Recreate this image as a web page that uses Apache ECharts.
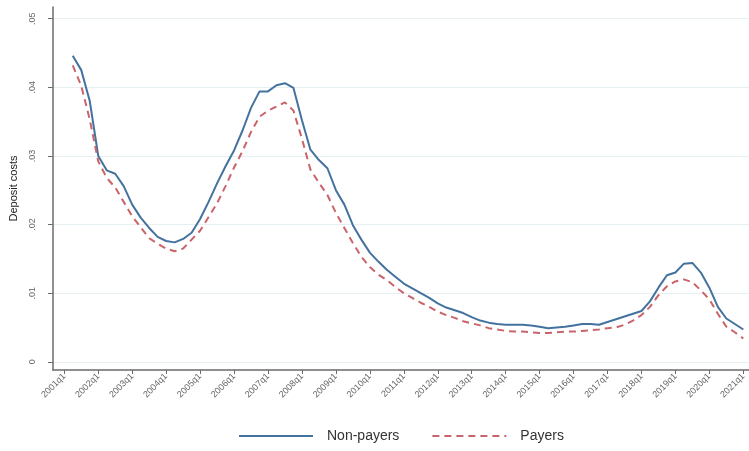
<!DOCTYPE html>
<html>
<head>
<meta charset="utf-8">
<script src="https://cdn.jsdelivr.net/npm/echarts@6/dist/echarts.min.js"></script>
<style>html,body{margin:0;padding:0;background:#fff;}#c{width:749px;height:451px;}</style>
</head>
<body>
<div id="c"></div>
<script>
// Quarters: index 0 = 2001q1 ... 80 = 2021q1; data starts at 2001q2
const startYear = 2001;
const tickQuarters = [0,4,8,12,16,20,24,28,32,36,40,44,48,52,56,60,64,68,72,76,80];
const yTicks = [0, 0.01, 0.02, 0.03, 0.04, 0.05];
const nonPayers = [
  0.0446,0.0425,0.0380,0.0300,0.0279,0.0274,0.0256,0.0229,0.0210,0.0195,
  0.0182,0.0176,0.0174,0.0179,0.0188,0.0208,0.0233,0.0260,0.0285,0.0308,
  0.0337,0.0370,0.0394,0.0394,0.0403,0.0406,0.0399,0.0352,0.0309,0.0294,
  0.0282,0.0250,0.0229,0.0199,0.0178,0.0159,0.0146,0.0134,0.0124,0.0114,
  0.0107,0.0100,0.0093,0.0085,0.0079,0.0075,0.0071,0.0065,0.0060,0.0057,
  0.0055,0.0054,0.0054,0.0054,0.0053,0.0051,0.0049,0.0050,0.0051,0.0053,
  0.0055,0.0055,0.0054,0.0058,0.0062,0.0066,0.0070,0.0074,0.0088,0.0108,
  0.0126,0.0130,0.0143,0.0144,0.0130,0.0108,0.0080,0.0063,0.0055,0.0047
];
const payers = [
  0.0432,0.0402,0.0353,0.0292,0.0268,0.0254,0.0233,0.0212,0.0196,0.0180,
  0.0172,0.0165,0.0161,0.0165,0.0178,0.0191,0.0211,0.0231,0.0256,0.0283,
  0.0307,0.0335,0.0357,0.0366,0.0372,0.0378,0.0366,0.0325,0.0280,0.0261,
  0.0243,0.0217,0.0195,0.0173,0.0153,0.0138,0.0127,0.0119,0.0109,0.0100,
  0.0093,0.0086,0.0080,0.0073,0.0068,0.0064,0.0059,0.0056,0.0053,0.0049,
  0.0047,0.0045,0.0044,0.0044,0.0043,0.0042,0.0042,0.0043,0.0044,0.0044,
  0.0045,0.0046,0.0047,0.0049,0.0050,0.0054,0.0060,0.0068,0.0080,0.0097,
  0.0110,0.0117,0.0120,0.0116,0.0104,0.0091,0.0070,0.0051,0.0043,0.0034
];
const firstIndex = 1;

function qLabel(q){
  const y = startYear + Math.floor(q/4);
  return y + 'q' + (q%4 + 1);
}
const npData = nonPayers.map((v,i)=>[i+firstIndex, v]);
const pData = payers.map((v,i)=>[i+firstIndex, v]);

const chart = echarts.init(document.getElementById('c'), null, {renderer:'canvas'});
const axisColor = '#6b6b6b';
const font = 'Liberation Sans, Arial, sans-serif';
chart.setOption({
  animation: false,
  backgroundColor: '#ffffff',
  grid: {left: 52, right: 0, top: 7, bottom: 81, containLabel: false},
  legend: {
    bottom: 3, left: 233,
    itemWidth: 74, itemHeight: 10, itemGap: 32,
    itemStyle: {opacity: 0},
    textStyle: {fontFamily: font, fontSize: 14, color: '#333', padding:[0,0,0,9]},
    data: ['Non-payers','Payers']
  },
  xAxis: {
    type: 'value', min: -1.33, max: 80.67,
    axisLine: {show: true, onZero: false, lineStyle: {color: axisColor, width: 1.5}},
    axisTick: {show: true, length: 4, inside: false, customValues: tickQuarters, lineStyle: {color: axisColor, width: 1}},
    axisLabel: {
      customValues: tickQuarters, rotate: 45, margin: 5,
      fontSize: 9, color: '#666', fontFamily: font,
      formatter: (v)=> qLabel(Math.round(v))
    },
    splitLine: {show: false}
  },
  yAxis: {
    type: 'value', min: -0.0012, max: 0.0517,
    name: 'Deposit costs', nameLocation: 'middle', nameGap: 34, nameRotate: 90,
    nameTextStyle: {fontFamily: font, fontSize: 11, color: '#222'},
    axisLine: {show: true, onZero: false, lineStyle: {color: axisColor, width: 1.5}},
    axisTick: {show: true, length: 5, customValues: yTicks, lineStyle: {color: axisColor, width: 1}},
    axisLabel: {
      customValues: yTicks, rotate: 90, margin: 16,
      fontSize: 9, color: '#666', fontFamily: font,
      formatter: (v)=> v === 0 ? '0' : ('.' + String(Math.round(v*100)).padStart(2,'0'))
    },
    splitLine: {show: true, lineStyle: {color: '#e6eff2', width: 1}}
  },
  series: [
    {name: 'Non-payers', type: 'line', data: npData, showSymbol: false, symbol: 'none', smooth: false,
     lineStyle: {color: '#44729f', width: 2}, itemStyle: {color: '#44729f'}},
    {name: 'Payers', type: 'line', data: pData, showSymbol: false, symbol: 'none', smooth: false,
     lineStyle: {color: '#c9646a', width: 2, type: [7,5]}, itemStyle: {color: '#c9646a'}}
  ]
});
</script>
</body>
</html>
